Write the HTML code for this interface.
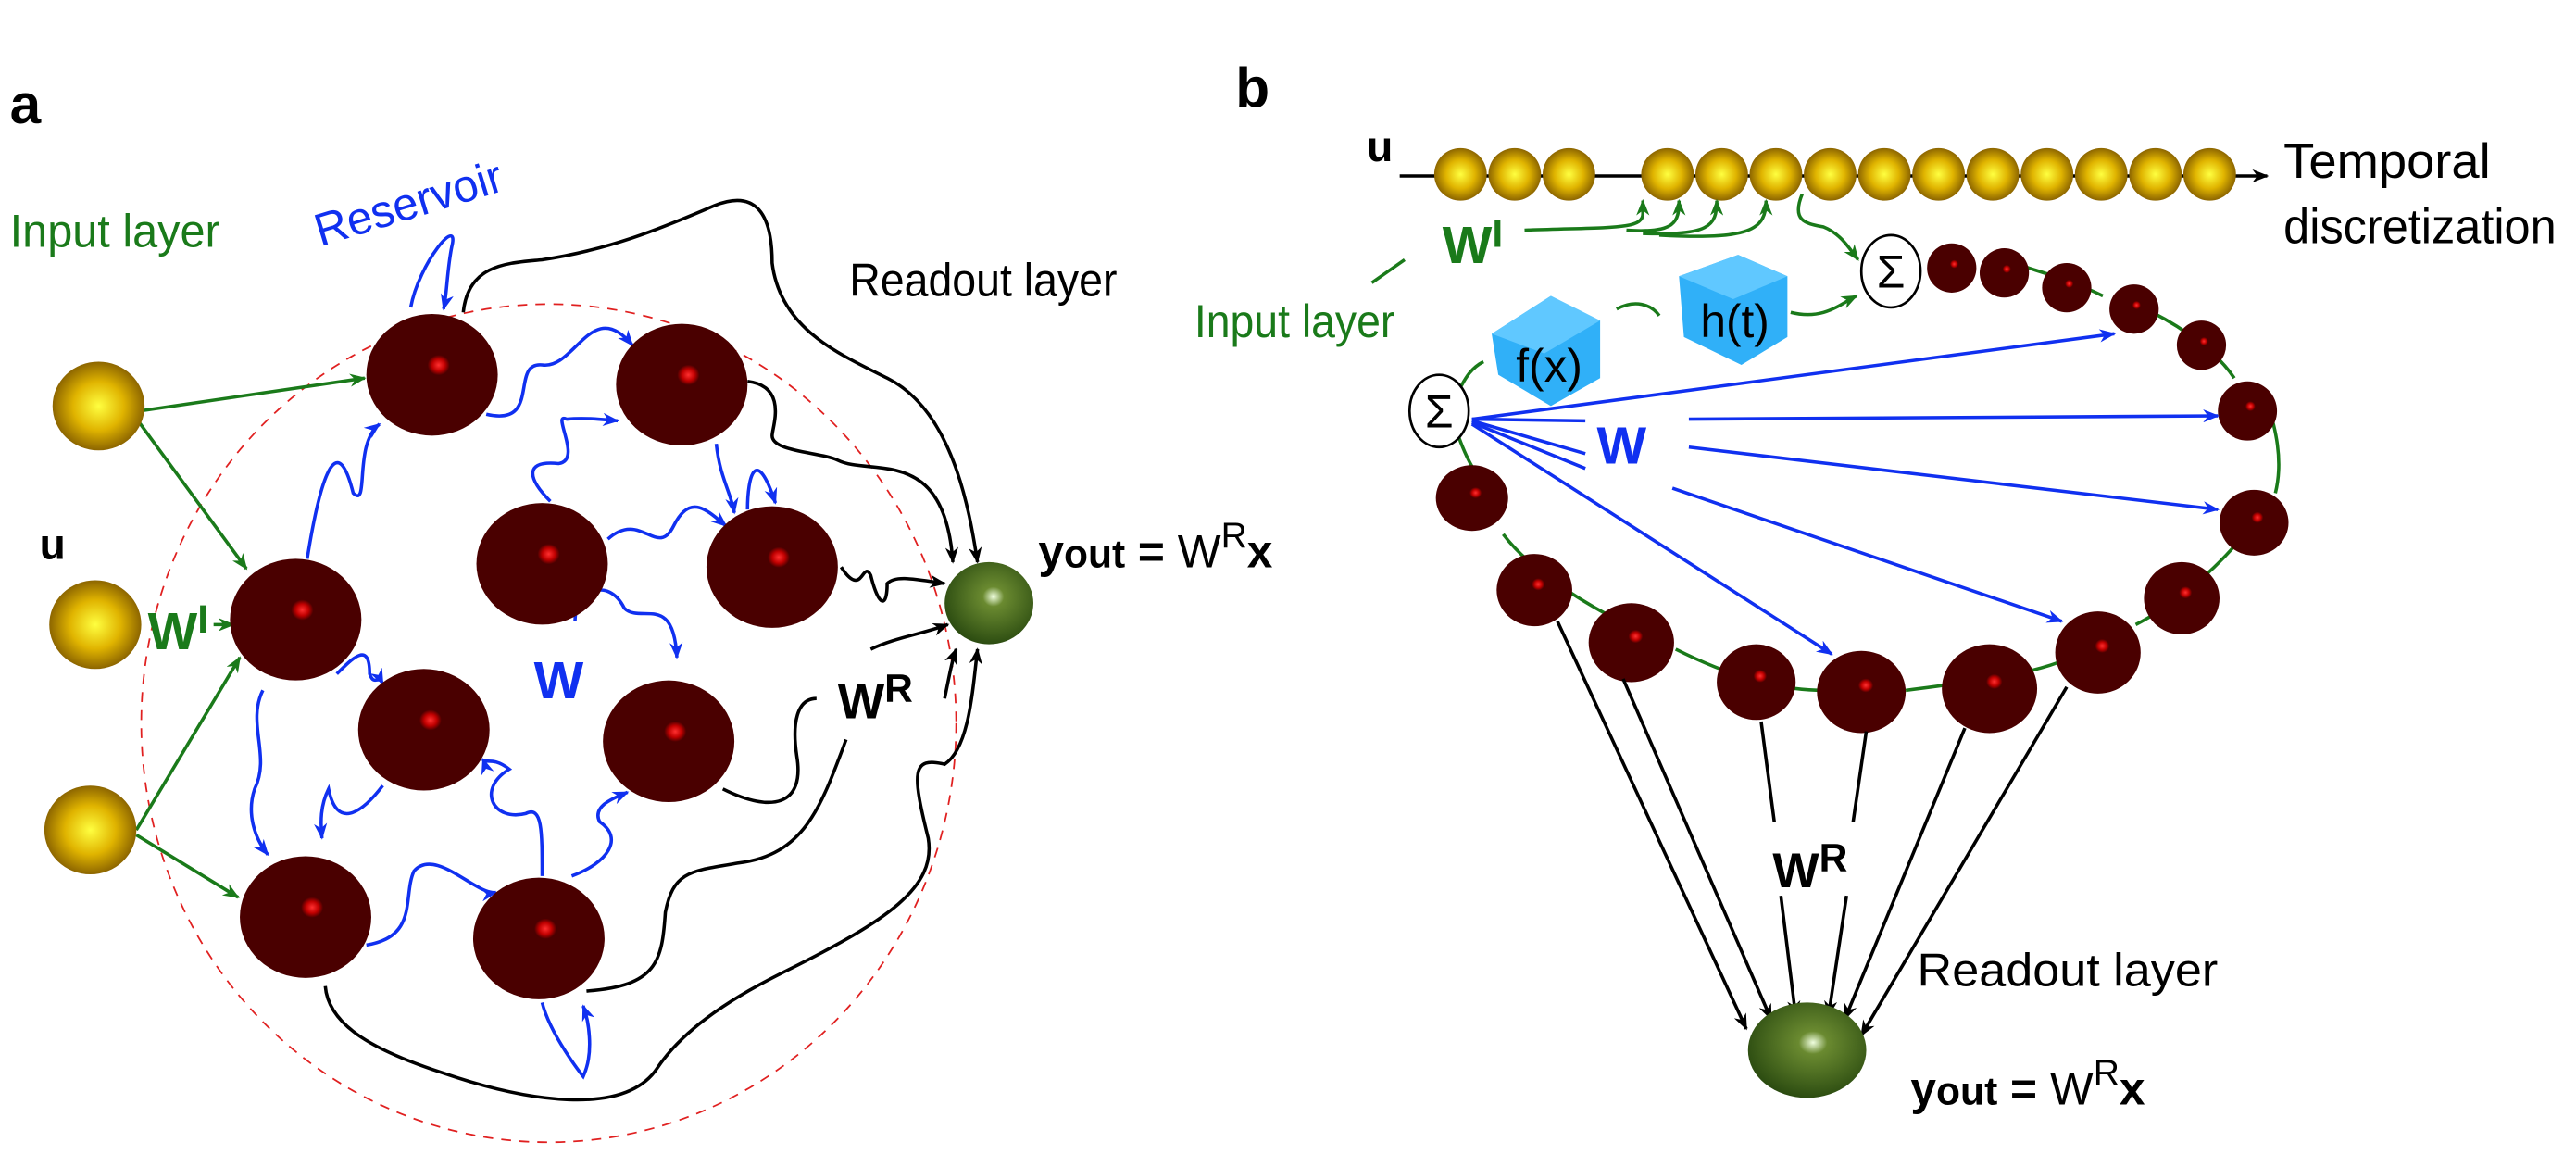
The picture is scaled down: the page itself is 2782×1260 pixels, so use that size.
<!DOCTYPE html>
<html><head><meta charset="utf-8"><style>html,body{margin:0;padding:0;background:#fff}svg{display:block}</style></head>
<body>
<svg width="2782" height="1260" viewBox="0 0 1568 710" xmlns="http://www.w3.org/2000/svg" font-family="Liberation Sans, sans-serif">
<defs>
<radialGradient id="gold" cx="50%" cy="50%" r="55%"><stop offset="0" stop-color="#ffff40"/><stop offset="0.5" stop-color="#e0b400"/><stop offset="1" stop-color="#7a5400"/></radialGradient>
<radialGradient id="node" cx="55%" cy="42%" r="60%"><stop offset="0" stop-color="#ff3030"/><stop offset="0.08" stop-color="#c00000"/><stop offset="0.14" stop-color="#4a0000"/><stop offset="1" stop-color="#4a0000"/></radialGradient>
<radialGradient id="green" cx="55%" cy="42%" r="60%"><stop offset="0" stop-color="#f0ffe0"/><stop offset="0.2" stop-color="#6a8a30"/><stop offset="1" stop-color="#2a4a10"/></radialGradient>
<marker id="ab" markerWidth="10" markerHeight="8" refX="9" refY="4" orient="auto" markerUnits="userSpaceOnUse"><path d="M0,0 L10,4 L0,8 L3,4z" fill="#1030f0"/></marker>
<marker id="ak" markerWidth="10" markerHeight="8" refX="9" refY="4" orient="auto" markerUnits="userSpaceOnUse"><path d="M0,0 L10,4 L0,8 L3,4z" fill="#000"/></marker>
<marker id="ag" markerWidth="10" markerHeight="8" refX="9" refY="4" orient="auto" markerUnits="userSpaceOnUse"><path d="M0,0 L10,4 L0,8 L3,4z" fill="#1a7a1a"/></marker>
</defs>
<!-- Panel a -->
<text x="6" y="75" font-size="34" font-weight="bold">a</text>
<text x="6" y="150" font-size="28" fill="#1a7a1a" textLength="128" lengthAdjust="spacingAndGlyphs">Input layer</text>
<text x="195" y="150" font-size="28" fill="#1030f0" transform="rotate(-17 195 150)" textLength="118" lengthAdjust="spacingAndGlyphs">Reservoir</text>
<text x="517" y="180" font-size="28" textLength="163" lengthAdjust="spacingAndGlyphs">Readout layer</text>
<ellipse cx="334" cy="440" rx="248" ry="255" fill="none" stroke="#e02020" stroke-width="1" stroke-dasharray="6,5"/>
<g fill="none" stroke="#1a7a1a" stroke-width="2">
<path d="M85,250 L222,230" marker-end="url(#ag)"/><path d="M84,256 L150,346" marker-end="url(#ag)"/>
<path d="M130,380 L142,380" marker-end="url(#ag)"/>
<path d="M83,505 L146,400" marker-end="url(#ag)"/><path d="M83,508 L145,546" marker-end="url(#ag)"/>
</g>
<g fill="none" stroke="#1030f0" stroke-width="2">
<path d="M250,187 C255,160 280,130 275,150 C272,165 272,180 270,188" marker-end="url(#ab)"/>
<path d="M296,252 C330,260 310,220 330,222 C350,225 360,180 385,210" marker-end="url(#ab)"/>
<path d="M187,340 C195,290 205,260 215,300 C225,310 215,270 231,258" marker-end="url(#ab)"/>
<path d="M335,305 C320,290 320,280 340,282 C355,280 335,250 345,255 C355,254 365,255 376,256" marker-end="url(#ab)"/>
<path d="M436,270 C438,290 445,300 447,312" marker-end="url(#ab)"/>
<path d="M455,310 C455,290 460,270 472,306" marker-end="url(#ab)"/>
<path d="M370,328 C390,310 400,340 410,320 C420,300 430,310 442,320" marker-end="url(#ab)"/>
<path d="M350,378 C350,360 370,350 380,370 C390,380 410,360 412,400" marker-end="url(#ab)"/>
<path d="M205,410 C215,400 225,390 225,410 C228,418 230,410 233,416" marker-end="url(#ab)"/>
<path d="M160,420 C150,440 165,460 155,480 C150,495 155,510 163,520" marker-end="url(#ab)"/>
<path d="M233,478 C220,495 205,505 200,480 C195,490 195,500 196,510" marker-end="url(#ab)"/>
<path d="M223,575 C255,570 245,545 252,530 C265,515 290,545 302,543" marker-end="url(#ab)"/>
<path d="M330,533 C330,505 330,490 320,495 C300,500 290,480 310,468 C300,460 295,465 294,462" marker-end="url(#ab)"/>
<path d="M348,533 C370,525 380,510 365,500 C360,490 375,485 382,482" marker-end="url(#ab)"/>
<path d="M330,610 C335,630 355,655 355,655 C362,640 358,620 355,612" marker-end="url(#ab)"/>
</g>
<g fill="none" stroke="#000" stroke-width="2">
<path d="M282,190 C285,160 310,160 330,158 C370,152 400,140 435,125 C460,115 470,130 470,160 C475,200 510,215 540,230 C580,250 590,310 595,342" marker-end="url(#ak)"/>
<path d="M455,232 C480,235 470,260 470,265 C470,275 500,275 510,280 C530,290 575,270 580,342" marker-end="url(#ak)"/>
<path d="M512,345 C525,365 525,340 530,350 C535,370 540,370 540,355 C545,350 555,352 575,355" marker-end="url(#ak)"/>
<path d="M530,395 C545,388 560,386 577,380" marker-end="url(#ak)"/>
<path d="M575,425 C578,410 580,400 582,395" marker-end="url(#ak)"/>
<path d="M440,480 C470,495 490,490 485,460 C482,440 485,425 497,425"/>
<path d="M357,603 C400,600 403,585 405,555 C410,530 420,530 450,525 C490,520 500,490 515,450"/>
<path d="M198,600 C200,625 230,640 270,653 C320,670 380,680 400,650 C420,620 460,600 480,590 C540,560 570,540 565,510 C555,470 555,460 575,465 C590,455 592,420 595,395" marker-end="url(#ak)"/>
</g>
<g><ellipse cx="60" cy="247" rx="28" ry="27" fill="url(#gold)"/><ellipse cx="58" cy="380" rx="28" ry="27" fill="url(#gold)"/><ellipse cx="55" cy="505" rx="28" ry="27" fill="url(#gold)"/></g>
<g fill="url(#node)">
<ellipse cx="263" cy="228" rx="40" ry="37"/><ellipse cx="415" cy="234" rx="40" ry="37"/><ellipse cx="330" cy="343" rx="40" ry="37"/><ellipse cx="470" cy="345" rx="40" ry="37"/><ellipse cx="180" cy="377" rx="40" ry="37"/><ellipse cx="258" cy="444" rx="40" ry="37"/><ellipse cx="407" cy="451" rx="40" ry="37"/><ellipse cx="186" cy="558" rx="40" ry="37"/><ellipse cx="328" cy="571" rx="40" ry="37"/>
</g>
<ellipse cx="602" cy="367" rx="27" ry="25" fill="url(#green)"/>
<text x="24" y="340" font-size="26" font-weight="bold">u</text>
<text x="90" y="395" font-size="32" font-weight="bold" fill="#1a7a1a">W<tspan font-size="24" dy="-10">I</tspan></text>
<text x="325" y="425" font-size="32" font-weight="bold" fill="#1030f0">W</text>
<text x="510" y="437" font-size="30" font-weight="bold">W<tspan font-size="24" dy="-10">R</tspan></text>
<text x="632" y="345" font-size="28" font-weight="bold">y<tspan font-size="24">out</tspan> = <tspan font-weight="normal">W</tspan><tspan font-size="22" dy="-12" font-weight="normal">R</tspan><tspan dy="12">x</tspan></text>
<!-- Panel b -->
<text x="752" y="65" font-size="34" font-weight="bold">b</text>
<text x="832" y="98" font-size="26" font-weight="bold">u</text>
<line x1="852" y1="107" x2="1380" y2="107" stroke="#000" stroke-width="2" marker-end="url(#ak)"/>
<g fill="url(#gold)">
<ellipse cx="889" cy="106" rx="16" ry="16"/><ellipse cx="922" cy="106" rx="16" ry="16"/><ellipse cx="955" cy="106" rx="16" ry="16"/>
<ellipse cx="1015" cy="106" rx="16" ry="16"/><ellipse cx="1048" cy="106" rx="16" ry="16"/><ellipse cx="1081" cy="106" rx="16" ry="16"/><ellipse cx="1114" cy="106" rx="16" ry="16"/><ellipse cx="1147" cy="106" rx="16" ry="16"/><ellipse cx="1180" cy="106" rx="16" ry="16"/><ellipse cx="1213" cy="106" rx="16" ry="16"/><ellipse cx="1246" cy="106" rx="16" ry="16"/><ellipse cx="1279" cy="106" rx="16" ry="16"/><ellipse cx="1312" cy="106" rx="16" ry="16"/><ellipse cx="1345" cy="106" rx="16" ry="16"/>
</g>
<text x="1390" y="108" font-size="30" textLength="126" lengthAdjust="spacingAndGlyphs">Temporal</text>
<text x="1390" y="148" font-size="30" textLength="166" lengthAdjust="spacingAndGlyphs">discretization</text>
<text x="727" y="205" font-size="28" fill="#1a7a1a" textLength="122" lengthAdjust="spacingAndGlyphs">Input layer</text>
<path d="M835,172 L855,158" stroke="#1a7a1a" stroke-width="2"/>
<text x="878" y="160" font-size="32" font-weight="bold" fill="#1a7a1a">W<tspan font-size="24" dy="-10">I</tspan></text>
<g fill="none" stroke="#1a7a1a" stroke-width="2">
<path d="M928,140 C980,138 1000,140 1000,130 L1000,122" marker-end="url(#ag)"/>
<path d="M990,140 C1020,142 1022,135 1022,122" marker-end="url(#ag)"/>
<path d="M1000,142 C1040,143 1045,138 1045,122" marker-end="url(#ag)"/>
<path d="M1010,143 C1065,146 1075,140 1075,122" marker-end="url(#ag)"/>
<path d="M1097,118 C1090,135 1100,136 1110,138 C1120,142 1125,150 1131,158" marker-end="url(#ag)"/>
<path d="M1090,190 C1110,195 1120,185 1130,180" marker-end="url(#ag)"/>
<path d="M984,188 C995,182 1005,185 1010,192"/>
<path d="M903,220 C893,225 890,235 888,237"/>
<path d="M888,266 C895,285 900,290 905,295 M915,325 C930,345 960,365 990,380 M1020,395 C1050,410 1080,420 1110,420 M1160,420 C1200,415 1240,410 1260,400 M1300,380 C1320,370 1345,350 1362,330 M1385,300 C1390,280 1385,260 1380,245 M1360,230 C1350,215 1330,200 1310,190 M1280,180 C1260,170 1240,165 1232,162"/>
</g>
<g fill="url(#node)">
<ellipse cx="1188" cy="163" rx="15" ry="15"/><ellipse cx="1220" cy="166" rx="15" ry="15"/><ellipse cx="1258" cy="175" rx="15" ry="15"/><ellipse cx="1299" cy="188" rx="15" ry="15"/><ellipse cx="1340" cy="210" rx="15" ry="15"/><ellipse cx="1368" cy="250" rx="18" ry="18"/><ellipse cx="1372" cy="318" rx="21" ry="20"/><ellipse cx="1328" cy="364" rx="23" ry="22"/><ellipse cx="1277" cy="397" rx="26" ry="25"/><ellipse cx="1211" cy="419" rx="29" ry="27"/><ellipse cx="1133" cy="421" rx="27" ry="25"/><ellipse cx="1069" cy="415" rx="24" ry="23"/><ellipse cx="993" cy="391" rx="26" ry="24"/><ellipse cx="934" cy="359" rx="23" ry="22"/><ellipse cx="896" cy="303" rx="22" ry="20"/>
</g>
<ellipse cx="1151" cy="165" rx="18" ry="22" fill="#fff" stroke="#000" stroke-width="1.5"/>
<ellipse cx="876" cy="250" rx="18" ry="22" fill="#fff" stroke="#000" stroke-width="1.5"/>
<text x="1151" y="175" font-size="28" text-anchor="middle">Σ</text>
<text x="876" y="260" font-size="28" text-anchor="middle">Σ</text>
<g>
<polygon points="908,203 944,180 974,195 974,230 944,247 912,228" fill="#30b0f8"/>
<polygon points="908,203 944,180 974,195 940,215" fill="#60c8ff"/>
<polygon points="1022,168 1058,155 1088,168 1088,205 1060,222 1025,205" fill="#30b0f8"/>
<polygon points="1022,168 1058,155 1088,168 1055,182" fill="#60c8ff"/>
<text x="943" y="232" font-size="28" text-anchor="middle">f(x)</text>
<text x="1056" y="205" font-size="28" text-anchor="middle">h(t)</text>
</g>
<g fill="none" stroke="#1030f0" stroke-width="2">
<path d="M896,255 L1287,203" marker-end="url(#ab)"/>
<path d="M896,255 L965,256 M1028,255 L1350,253" marker-end="url(#ab)"/>
<path d="M896,256 L965,276 M1028,272 L1350,310" marker-end="url(#ab)"/>
<path d="M896,258 L1115,398" marker-end="url(#ab)"/>
<path d="M896,257 L965,285 M1018,297 L1255,378" marker-end="url(#ab)"/>
</g>
<text x="972" y="282" font-size="32" font-weight="bold" fill="#1030f0">W</text>
<g fill="none" stroke="#000" stroke-width="2">
<path d="M948,378 L1063,626" marker-end="url(#ak)"/>
<path d="M988,413 L1078,620" marker-end="url(#ak)"/>
<path d="M1072,439 L1080,500 M1084,545 L1093,618" marker-end="url(#ak)"/>
<path d="M1136,445 L1128,500 M1124,545 L1113,618" marker-end="url(#ak)"/>
<path d="M1196,443 L1123,620" marker-end="url(#ak)"/>
<path d="M1258,418 L1133,630" marker-end="url(#ak)"/>
</g>
<text x="1079" y="540" font-size="30" font-weight="bold">W<tspan font-size="24" dy="-10">R</tspan></text>
<ellipse cx="1100" cy="639" rx="36" ry="29" fill="url(#green)"/>
<text x="1167" y="600" font-size="28" textLength="183" lengthAdjust="spacingAndGlyphs">Readout layer</text>
<text x="1163" y="672" font-size="28" font-weight="bold">y<tspan font-size="24">out</tspan> = <tspan font-weight="normal">W</tspan><tspan font-size="22" dy="-12" font-weight="normal">R</tspan><tspan dy="12">x</tspan></text>
</svg>
</body></html>
